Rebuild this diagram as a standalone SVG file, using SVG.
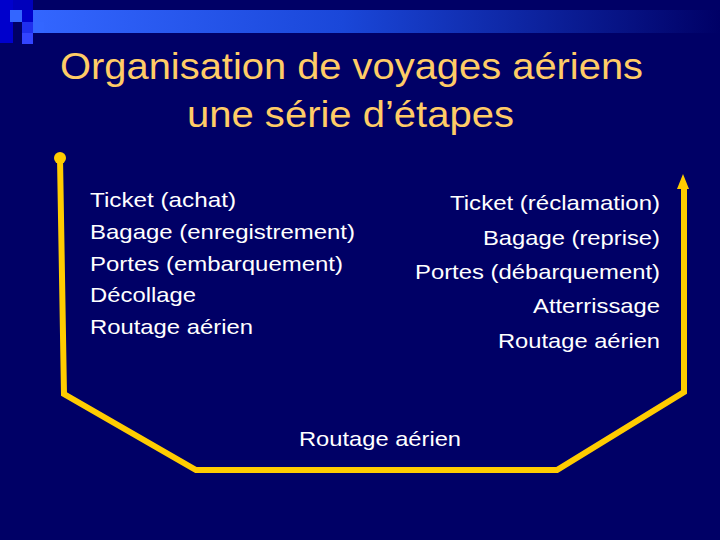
<svg xmlns="http://www.w3.org/2000/svg" width="720" height="540" viewBox="0 0 720 540">
<defs>
<linearGradient id="bar" x1="0" y1="0" x2="1" y2="0">
<stop offset="0" stop-color="#3366FF"/>
<stop offset="0.45" stop-color="#1A47D9"/>
<stop offset="1" stop-color="#000066"/>
</linearGradient>
</defs>
<style>
.t{font-family:"Liberation Sans",Arial,sans-serif;fill:#FFCC66;font-size:36px}
.b{font-family:"Liberation Sans",Arial,sans-serif;fill:#FFFFFF;font-size:21px}
.ln{fill:none;stroke:#FFCC00;stroke-width:6;stroke-linejoin:miter}
</style>
<rect x="0" y="0" width="720" height="540" fill="#000066"/>
<g id="deco">
<rect x="0" y="0" width="13" height="43" fill="#0000CC"/>
<rect x="13" y="0" width="20" height="10" fill="#0000BB"/>
<rect x="33" y="10" width="687" height="23" fill="url(#bar)"/>
<rect x="10" y="10" width="12" height="12" fill="#3366FF"/>
<rect x="22" y="10" width="11" height="12" fill="#0000CC"/>
<rect x="22" y="22" width="11" height="11" fill="#1F2FEE"/>
<rect x="33" y="22" width="11" height="11" fill="#3366FF"/>
<rect x="22" y="33" width="11" height="11" fill="#3344FF"/>
</g>
<g id="title">
<text class="t" x="60" y="79" textLength="583" lengthAdjust="spacingAndGlyphs">Organisation de voyages aériens</text>
<text class="t" x="187" y="127" textLength="327" lengthAdjust="spacingAndGlyphs">une série d’étapes</text>
</g>
<g id="connectors">
<path class="ln" d="M60,158 L64,394 L196,470 L557,470 L684,392 L684,186"/>
<circle cx="60" cy="158" r="6" fill="#FFCC00"/>
<polygon points="677,189 683,174 689,189" fill="#FFCC00"/>
</g>
<g id="departure">
<text class="b" x="90" y="207" textLength="146" lengthAdjust="spacingAndGlyphs">Ticket (achat)</text>
<text class="b" x="90" y="239" textLength="265" lengthAdjust="spacingAndGlyphs">Bagage (enregistrement)</text>
<text class="b" x="90" y="271" textLength="253" lengthAdjust="spacingAndGlyphs">Portes (embarquement)</text>
<text class="b" x="90" y="302" textLength="106" lengthAdjust="spacingAndGlyphs">Décollage</text>
<text class="b" x="90" y="334" textLength="163" lengthAdjust="spacingAndGlyphs">Routage aérien</text>
</g>
<g id="arrival">
<text class="b" x="450" y="210" textLength="210" lengthAdjust="spacingAndGlyphs">Ticket (réclamation)</text>
<text class="b" x="483" y="245" textLength="177" lengthAdjust="spacingAndGlyphs">Bagage (reprise)</text>
<text class="b" x="415" y="279" textLength="245" lengthAdjust="spacingAndGlyphs">Portes (débarquement)</text>
<text class="b" x="533" y="313" textLength="127" lengthAdjust="spacingAndGlyphs">Atterrissage</text>
<text class="b" x="498" y="348" textLength="162" lengthAdjust="spacingAndGlyphs">Routage aérien</text>
</g>
<g id="transit">
<text class="b" x="299" y="446" textLength="162" lengthAdjust="spacingAndGlyphs">Routage aérien</text>
</g>
</svg>
